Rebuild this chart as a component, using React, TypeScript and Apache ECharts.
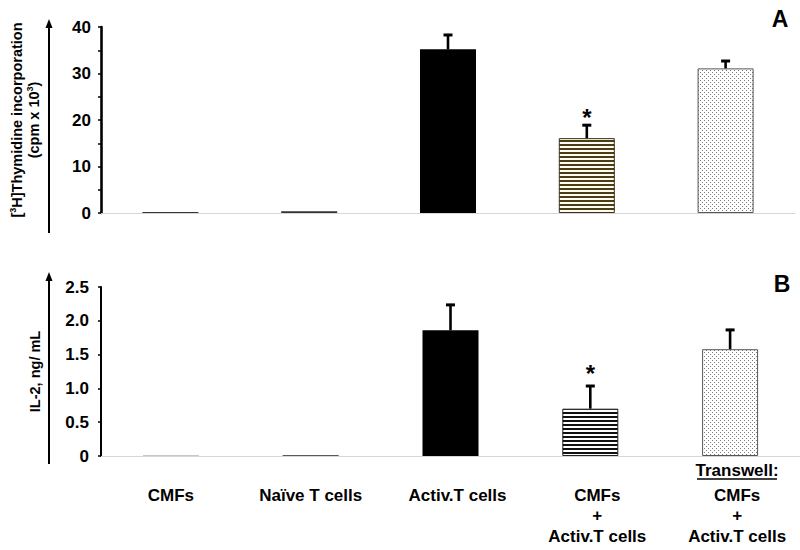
import React, { useEffect, useRef } from "react";
import * as echarts from "echarts";

const categories = [
  "CMFs",
  "Naïve T cells",
  "Activ.T cells",
  "CMFs + Activ.T cells",
  "Transwell: CMFs + Activ.T cells",
];
const xLabelLines = [
  ["CMFs"],
  ["Naïve T cells"],
  ["Activ.T cells"],
  ["CMFs", "+", "Activ.T cells"],
  ["CMFs", "+", "Activ.T cells"],
];
const xLabelPrefix = ["", "", "", "", "Transwell:"];

const thymidine = [0.2, 0.4, 35.2, 16.1, 31.1];
const thymidineErr = [0, 0, 3.3, 3.0, 1.8];
const il2 = [0.005, 0.012, 1.86, 0.7, 1.58];
const il2Err = [0, 0, 0.39, 0.35, 0.3];
const significant = [false, false, false, true, false];

const thymidineTicks = [0, 10, 20, 30, 40];
const il2Ticks = [0, 0.5, 1.0, 1.5, 2.0, 2.5];

const FONT = "Liberation Sans";

function makeCanvas(w: number, h: number, draw: (ctx: CanvasRenderingContext2D) => void) {
  const c = document.createElement("canvas");
  c.width = w;
  c.height = h;
  const ctx = c.getContext("2d")!;
  draw(ctx);
  return c;
}

function stripes(dark: string, light: string) {
  const c = makeCanvas(4, 4, (ctx) => {
    ctx.fillStyle = light;
    ctx.fillRect(0, 0, 4, 4);
    ctx.fillStyle = dark;
    ctx.fillRect(0, 0, 4, 2);
  });
  return { image: c, repeat: "repeat", imageWidth: 4, imageHeight: 4 } as any;
}

function dots() {
  const c = makeCanvas(4, 4, (ctx) => {
    ctx.fillStyle = "#ffffff";
    ctx.fillRect(0, 0, 4, 4);
    ctx.fillStyle = "#7a7a7a";
    ctx.fillRect(0, 0, 1, 1);
    ctx.fillRect(2, 2, 1, 1);
  });
  return { image: c, repeat: "repeat", imageWidth: 4, imageHeight: 4 } as any;
}

export default function App() {
  const ref = useRef<HTMLDivElement>(null);

  useEffect(() => {
    if (!ref.current) return;
    const chart = echarts.init(ref.current, null, { renderer: "svg" });

    const styleFor = (panel: "A" | "B", i: number) => {
      if (i <= 1) return { color: panel === "A" ? "#333333" : "#222222" };
      if (i === 2) return { color: "#000000" };
      if (i === 3)
        return panel === "A"
          ? { color: stripes("#4a3c14", "#fffdf2"), borderColor: "#3a3018", borderWidth: 1 }
          : { color: stripes("#111111", "#ffffff"), borderColor: "#222222", borderWidth: 1 };
      return { color: dots(), borderColor: "#555555", borderWidth: 1 };
    };

    // labels of the right-hand categories sit slightly right of their bars
    const labelItems = (labels: string[]) =>
      labels.map((l, i) => (i >= 2 ? { value: l, textStyle: { padding: [0, 0, 0, 14] } } : l));

    const errorSeries = (
      xAxisIndex: number,
      yAxisIndex: number,
      vals: number[],
      errs: number[],
      starGap: number
    ) => ({
      type: "custom",
      xAxisIndex,
      yAxisIndex,
      z: 5,
      data: vals.map((v, i) => [i, v, errs[i], significant[i] ? 1 : 0]),
      encode: { x: 0, y: 1 },
      renderItem: (params: any, api: any) => {
        const i = api.value(0);
        const v = api.value(1);
        const e = api.value(2);
        const s = api.value(3);
        const children: any[] = [];
        if (e > 0) {
          const p0 = api.coord([i, v]);
          const p1 = api.coord([i, v + e]);
          children.push({
            type: "line",
            shape: { x1: p0[0], y1: p0[1], x2: p1[0], y2: p1[1] },
            style: { stroke: "#000", lineWidth: 2.6 },
          });
          children.push({
            type: "line",
            shape: { x1: p1[0] - 4.5, y1: p1[1] + 1, x2: p1[0] + 4.5, y2: p1[1] + 1 },
            style: { stroke: "#000", lineWidth: 3 },
          });
          if (s) {
            children.push({
              type: "text",
              x: p1[0],
              y: p1[1] - starGap,
              style: {
                text: "*",
                align: "center",
                verticalAlign: "middle",
                font: `bold 24px ${FONT}`,
                fill: "#000",
              },
            });
          }
        }
        return { type: "group", children };
      },
    });

    const yLabel = (fmt: (v: number) => string, padding: number[]) => ({
      formatter: fmt,
      fontSize: 17,
      fontWeight: "bold",
      color: "#000",
      fontFamily: FONT,
      padding,
    });

    const option: any = {
      animation: false,
      textStyle: { fontFamily: FONT },
      grid: [
        { left: 100, top: 27, width: 695, height: 186 },
        { left: 101, top: 287, width: 700, height: 169 },
      ],
      xAxis: [
        {
          type: "category",
          gridIndex: 0,
          data: categories,
          axisLine: { lineStyle: { color: "#d6d6d6", width: 1 } },
          axisTick: { show: false },
          axisLabel: { show: false },
        },
        {
          type: "category",
          gridIndex: 1,
          data: labelItems(categories),
          position: "bottom",
          axisLine: { lineStyle: { color: "#d6d6d6", width: 1 } },
          axisTick: { show: false },
          axisLabel: {
            interval: 0,
            margin: 29,
            verticalAlign: "top",
            formatter: (_v: string, idx: number) =>
              xLabelLines[idx].map((l) => `{b|${l}}`).join("\n"),
            rich: {
              b: {
                fontSize: 17,
                fontWeight: "bold",
                fontFamily: FONT,
                color: "#000",
                lineHeight: 20.5,
              },
            },
          },
        },
        {
          type: "category",
          gridIndex: 1,
          data: labelItems(xLabelPrefix),
          position: "bottom",
          axisLine: { show: false },
          axisTick: { show: false },
          axisLabel: {
            interval: 0,
            margin: 4,
            verticalAlign: "top",
            formatter: (v: string) => (v ? `{u|${v}}` : ""),
            rich: {
              u: {
                fontSize: 17,
                fontWeight: "bold",
                fontFamily: FONT,
                color: "#000",
                lineHeight: 20,
              },
            },
          },
        },
      ],
      yAxis: [
        {
          type: "value",
          gridIndex: 0,
          min: 0,
          max: 40,
          interval: 5,
          splitLine: { show: false },
          axisLine: { show: true, lineStyle: { color: "#000", width: 2.6 } },
          axisTick: { show: true, length: 3, lineStyle: { color: "#000", width: 1.5 } },
          axisLabel: {
            ...yLabel((v: number) => (thymidineTicks.includes(v) ? String(v) : ""), [8, 0, 0, 0]),
            margin: 10,
          },
          name: "{n|[}{s|3}{n|H]Thymidine incorporation}\n{n|(cpm x 10}{s|3}{n|)}",
          nameLocation: "middle",
          nameRotate: 90,
          nameGap: 59,
          nameTextStyle: {
            rich: {
              n: { fontSize: 14.5, fontWeight: "bold", fontFamily: FONT, color: "#000", lineHeight: 17 },
              s: {
                fontSize: 9,
                fontWeight: "bold",
                fontFamily: FONT,
                color: "#000",
                lineHeight: 17,
                verticalAlign: "top",
              },
            },
          },
        },
        {
          type: "value",
          gridIndex: 1,
          min: 0,
          max: 2.5,
          interval: 0.5,
          splitLine: { show: false },
          axisLine: { show: true, lineStyle: { color: "#000", width: 2 } },
          axisTick: { show: true, length: 3, lineStyle: { color: "#000", width: 1.5 } },
          axisLabel: {
            ...yLabel((v: number) => {
              const t = il2Ticks.find((x) => Math.abs(x - v) < 1e-9);
              if (t === undefined) return "";
              return t === 0 ? "0" : t.toFixed(1);
            }, [0, 0, 0, 0]),
            margin: 12,
          },
          name: "IL-2, ng/ mL",
          nameLocation: "middle",
          nameRotate: 90,
          nameGap: 59,
          nameTextStyle: { fontSize: 14.5, fontWeight: "bold", fontFamily: FONT, color: "#000" },
        },
      ],
      series: [
        {
          type: "bar",
          xAxisIndex: 0,
          yAxisIndex: 0,
          barWidth: 56,
          data: thymidine.map((v, i) => ({ value: v, itemStyle: styleFor("A", i) })),
        },
        errorSeries(0, 0, thymidine, thymidineErr, 7),
        {
          type: "bar",
          xAxisIndex: 1,
          yAxisIndex: 1,
          barWidth: 56,
          data: il2.map((v, i) => ({ value: v, itemStyle: styleFor("B", i) })),
        },
        errorSeries(1, 1, il2, il2Err, 12),
      ],
      graphic: [
        // axis arrows
        { type: "line", shape: { x1: 49, y1: 233, x2: 49, y2: 26 }, style: { stroke: "#000", lineWidth: 2 } },
        { type: "polygon", shape: { points: [[49, 19], [45.5, 28], [52.5, 28]] }, style: { fill: "#000" } },
        { type: "line", shape: { x1: 49, y1: 464, x2: 49, y2: 279 }, style: { stroke: "#000", lineWidth: 2 } },
        { type: "polygon", shape: { points: [[49, 272], [45.5, 281], [52.5, 281]] }, style: { fill: "#000" } },
        // panel letters
        {
          type: "text",
          x: 780,
          y: 19,
          style: { text: "A", font: `bold 23px ${FONT}`, fill: "#000", align: "center", verticalAlign: "middle" },
        },
        {
          type: "text",
          x: 782,
          y: 284,
          style: { text: "B", font: `bold 23px ${FONT}`, fill: "#000", align: "center", verticalAlign: "middle" },
        },
        // underline for "Transwell"
        { type: "line", shape: { x1: 697, y1: 479, x2: 777, y2: 479 }, style: { stroke: "#000", lineWidth: 1.5 } },
      ],
    };

    chart.setOption(option);
    return () => chart.dispose();
  }, []);

  return (
    <div
      ref={ref}
      style={{ position: "fixed", left: 0, top: 0, width: 800, height: 550, background: "#fff" }}
    />
  );
}
